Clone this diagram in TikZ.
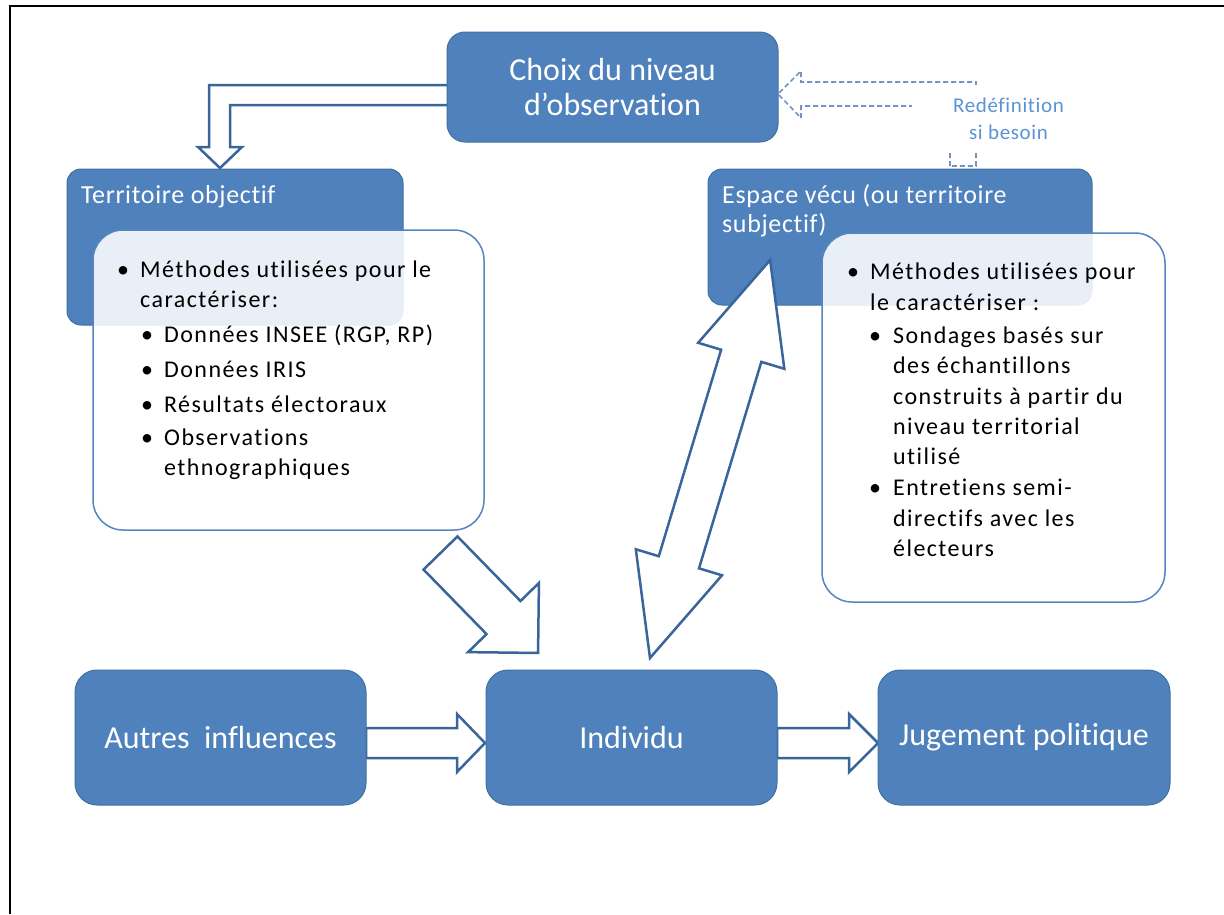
\documentclass[tikz,border=0pt]{standalone}
\usepackage{fontspec}
\setmainfont{Carlito}[Ligatures=NoCommon]
\newfontfamily\spacedfont{Carlito}[LetterSpace=6,Ligatures=NoCommon]
\newfontfamily\headfont{Carlito}[LetterSpace=2.5,Ligatures=NoCommon]
\newfontfamily\redeffont{Carlito}[LetterSpace=3,Ligatures=NoCommon]
\usetikzlibrary{calc}
\definecolor{boxblue}{HTML}{4F81BD}
\definecolor{boxedge}{HTML}{41709F}
\definecolor{arrowedge}{HTML}{3A659A}
\definecolor{whiteedge}{HTML}{5585C0}
\definecolor{dashcol}{HTML}{7393C3}
\definecolor{redefcol}{HTML}{5B94D6}
\begin{document}
\begin{tikzpicture}[x=1pt,y=-1pt,
  bluebox/.style={fill=boxblue, draw=boxedge, line width=1pt, rounded corners=#1, inner sep=0pt},
  bluebox/.default=18pt,
  whitebox/.style={fill=white, fill opacity=0.88, draw=whiteedge, draw opacity=1, line width=1.5pt, rounded corners=30pt, inner sep=0pt},
  blockarrow/.style={fill=white, draw=arrowedge, line width=2.5pt, line join=miter},
  titletext/.style={text=white, align=center, font=\fontsize{32}{35}\selectfont, inner sep=0pt},
  headtext/.style={text=white, anchor=base west, inner sep=0pt, font=\headfont\fontsize{26}{30}\selectfont},
  bultext/.style={text=black, anchor=base west, inner sep=0pt, font=\spacedfont\fontsize{24}{30}\selectfont},
  bulmark/.style={text=black, anchor=base, inner sep=0pt, font=\fontsize{24}{30}\selectfont},
  dasharrow/.style={draw=dashcol, line width=1.6pt, dash pattern=on 5pt off 3pt}
]
\useasboundingbox (0,0) rectangle (1224,914);
\fill[white] (0,0) rectangle (1224,914);
% frame
\draw[black, line width=2.6pt] (10,914) -- (10,6) -- (1224,6);

% L-shaped arrow from Choix to Territoire
\coordinate (lstart) at (460,85);
\draw[blockarrow] (lstart) -- (209,85) -- (209,147) -- (198,147) -- (220,168) -- (242,147) -- (230,147) -- (230,105) -- (460,105);

% dashed bent arrow from Espace vecu to Choix
\draw[dasharrow] (950,166) -- (950,106) -- (801,106) -- (801,118) -- (778,94) -- (801,71) -- (801,82) -- (976,82) -- (976,166) -- cycle;
\fill[white] (912,85) rectangle (1090,152);
\node[text=redefcol, align=center, inner sep=0pt, font=\redeffont\fontsize{21}{27}\selectfont] (redef) at (1008.5,119) {Redéfinition\\si besoin};

% horizontal arrows
\coordinate (h1) at (366,743);
\draw[blockarrow] (h1) ++(0,-15) -- ++(91,0) -- ++(0,-14) -- ++(28,29) -- ++(-28,29) -- ++(0,-14) -- ++(-91,0) -- cycle;
\coordinate (h2) at (777,743);
\draw[blockarrow] (h2) ++(0,-15) -- ++(72,0) -- ++(0,-14) -- ++(29,29) -- ++(-29,29) -- ++(0,-14) -- ++(-72,0) -- cycle;

% boxes
\node[bluebox=18pt, minimum width=331pt, minimum height=110pt] (choix) at (612.5,87) {};
\node[titletext] (choixT) at (choix.center) {Choix du niveau\\d’observation};

\node[bluebox=14pt, minimum width=336pt, minimum height=156pt] (terr) at (235,247) {};
\node[headtext] (terrT) at (81,203) {Territoire objectif};

\node[bluebox=14pt, minimum width=384pt, minimum height=136pt] (espace) at (900,237) {};
\node[headtext] (espT1) at (722,203) {Espace vécu (ou territoire};
\node[headtext] (espT2) at (722,232) {subjectif)};

\node[bluebox=22pt, minimum width=291pt, minimum height=135pt] (autres) at (220.5,737.5) {};
\node[titletext] (autresT) at (autres.center) {Autres\ \ influences};
\node[bluebox=22pt, minimum width=291pt, minimum height=135pt] (indiv) at (631.5,737.5) {};
\node[titletext] (indivT) at (indiv.center) {Individu};
\node[bluebox=22pt, minimum width=292pt, minimum height=135pt] (jug) at (1024,737.5) {};
\node[titletext] (jugT) at (jug.center) {Jugement politique};

% white boxes
\node[whitebox, minimum width=391pt, minimum height=300pt] (wl) at (288.5,380) {};
\node[whitebox, minimum width=343pt, minimum height=369pt] (wr) at (993.5,417.5) {};

% left box text
\node[bulmark] (lb1) at (123,277) {\textbullet};
\node[bultext] (lt1) at (140,277) {Méthodes utilisées pour le};
\node[bultext] (lt2) at (140,307) {caractériser:};
\node[bulmark] (lb2) at (147,342) {\textbullet};
\node[bultext] (lt3) at (164,342) {Données INSEE (RGP, RP)};
\node[bulmark] (lb3) at (147,377) {\textbullet};
\node[bultext] (lt4) at (164,377) {Données IRIS};
\node[bulmark] (lb4) at (147,412) {\textbullet};
\node[bultext] (lt5) at (164,412) {Résultats électoraux};
\node[bulmark] (lb5) at (147,445) {\textbullet};
\node[bultext] (lt6) at (164,445) {Observations};
\node[bultext] (lt7) at (164,475) {ethnographiques};

% right box text
\node[bulmark] (rb1) at (853,279) {\textbullet};
\node[bultext] (rt1) at (870,279) {Méthodes utilisées pour};
\node[bultext] (rt2) at (870,310) {le caractériser :};
\node[bulmark] (rb2) at (875,343) {\textbullet};
\node[bultext] (rt3) at (893,343) {Sondages basés sur};
\node[bultext] (rt4) at (893,373) {des échantillons};
\node[bultext] (rt5) at (893,404) {construits à partir du};
\node[bultext] (rt6) at (893,434) {niveau territorial};
\node[bultext] (rt7) at (893,464) {utilisé};
\node[bulmark] (rb3) at (875,495) {\textbullet};
\node[bultext] (rt8) at (893,495) {Entretiens semi-};
\node[bultext] (rt9) at (893,526) {directifs avec les};
\node[bultext] (rt10) at (893,556) {électeurs};

% diagonal arrow from left box to Individu
\begin{scope}[shift={(440.5,553)}, rotate=-45.7]
\draw[blockarrow] (0,-23.7) -- (90.2,-23.7) -- (90.2,-49.5) -- (139.7,0) -- (90.2,49.5) -- (90.2,23.7) -- (0,23.7) -- cycle;
\end{scope}

% double arrow between Individu and Espace vecu
\begin{scope}[shift={(650,658)}, rotate=73.2]
\draw[blockarrow] (0,0) -- (100,45) -- (100,21) -- (315.7,21) -- (315.7,45) -- (415.7,0) -- (315.7,-45) -- (315.7,-21) -- (100,-21) -- (100,-45) -- cycle;
\end{scope}
\end{tikzpicture}
\end{document}
